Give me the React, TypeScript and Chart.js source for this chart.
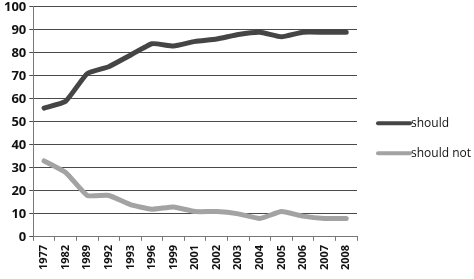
import React, { useEffect, useRef } from "react";
import { Chart, registerables } from "chart.js";

Chart.register(...registerables);

const years = ["1977", "1982", "1989", "1992", "1993", "1996", "1999", "2001", "2002", "2003", "2004", "2005", "2006", "2007", "2008"];
const shouldValues = [56, 59, 71, 74, 79, 84, 83, 85, 86, 88, 89, 87, 89, 89, 89];
const shouldNotValues = [33, 28, 18, 18, 14, 12, 13, 11, 11, 10, 8, 11, 9, 8, 8];
const yTicks = [0, 10, 20, 30, 40, 50, 60, 70, 80, 90, 100];

const FAMILY = "'Open Sans', 'DejaVu Sans', sans-serif";

const sideLegend = {
  id: "sideLegend",
  afterDraw(chart: any) {
    const ctx = chart.ctx;
    const area = chart.chartArea;
    const ds = chart.data.datasets;
    const x0 = area.right + 21;
    const lineW = 32;
    const gap = 30;
    const midY = (area.top + area.bottom) / 2 + 16.5;
    const startY = midY - ((ds.length - 1) * gap) / 2;
    ctx.save();
    ctx.font = `12px ${FAMILY}`;
    ctx.textBaseline = "middle";
    ds.forEach((d: any, i: number) => {
      const y = startY + i * gap;
      ctx.strokeStyle = d.borderColor;
      ctx.lineWidth = 4;
      ctx.lineCap = "round";
      ctx.beginPath();
      ctx.moveTo(x0, y);
      ctx.lineTo(x0 + lineW, y);
      ctx.stroke();
      ctx.fillStyle = "#111";
      ctx.fillText(d.label, x0 + lineW + 1, y);
    });
    ctx.restore();
  },
};

export default function App() {
  const ref = useRef<HTMLCanvasElement>(null);
  useEffect(() => {
    document.body.style.margin = "0";
    const ctx = ref.current!;
    const chart = new Chart(ctx, {
      type: "line",
      data: {
        labels: years,
        datasets: [
          {
            label: "should",
            data: shouldValues,
            borderColor: "#454545",
            backgroundColor: "#454545",
            borderWidth: 5,
            pointRadius: 0,
            tension: 0.15,
            borderJoinStyle: "round",
            borderCapStyle: "round",
          },
          {
            label: "should not",
            data: shouldNotValues,
            borderColor: "#a3a3a3",
            backgroundColor: "#a3a3a3",
            borderWidth: 5,
            pointRadius: 0,
            tension: 0.15,
            borderJoinStyle: "round",
            borderCapStyle: "round",
          },
        ],
      },
      options: {
        animation: false,
        responsive: false,
        layout: { padding: { top: 5, right: 117, left: 1, bottom: 5 } },
        plugins: {
          tooltip: { enabled: false },
          legend: { display: false },
        },
        scales: {
          x: {
            offset: true,
            grid: { display: true, drawOnChartArea: false, offset: true, tickLength: 4, color: "#777" },
            border: { color: "#777" },
            ticks: { minRotation: 90, maxRotation: 90, color: "#111", font: { family: FAMILY, size: 11, weight: "bold" }, padding: 4 },
          },
          y: {
            min: 0,
            max: 100,
            afterBuildTicks: (axis: any) => {
              axis.ticks = yTicks.map((v) => ({ value: v }));
            },
            grid: { color: "#4a4a4a", lineWidth: 1, tickLength: 4 },
            border: { color: "#777" },
            ticks: { color: "#111", font: { family: FAMILY, size: 13, weight: "bold", lineHeight: 0.6 }, padding: 3 },
          },
        },
      },
      plugins: [sideLegend],
    });
    return () => chart.destroy();
  }, []);
  return (
    <div style={{ position: "absolute", left: 0, top: 0, width: 474, height: 279, background: "#fff" }}>
      <canvas ref={ref} width={474} height={279} />
    </div>
  );
}
